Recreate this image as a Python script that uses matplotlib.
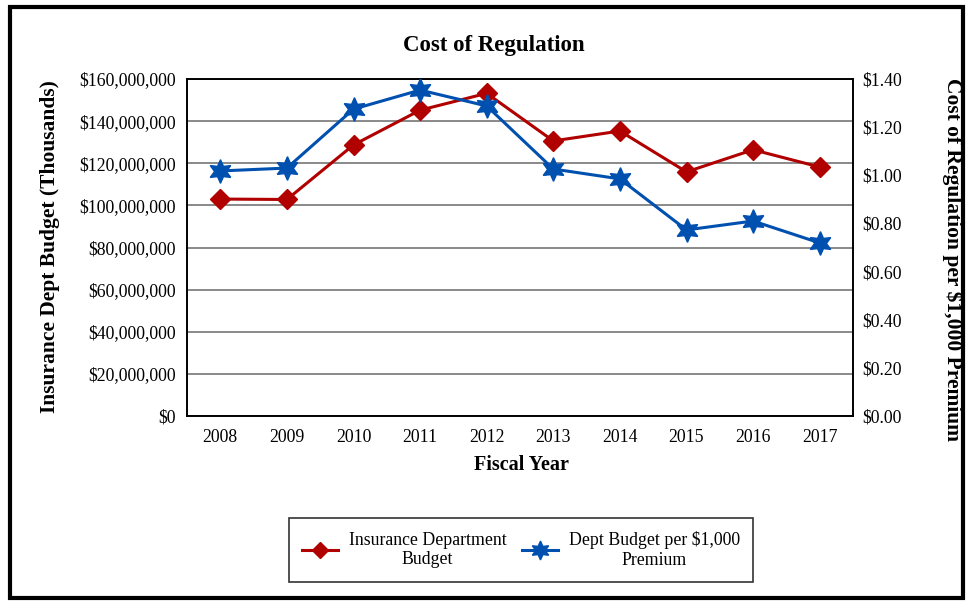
import matplotlib
matplotlib.use("Agg")
import matplotlib.pyplot as plt
from matplotlib.ticker import FuncFormatter
from matplotlib.patches import Rectangle

years = ["2008", "2009", "2010", "2011", "2012", "2013", "2014", "2015", "2016", "2017"]
dept_budget = [103.0e6, 102.8e6, 128.7e6, 145.2e6, 153.2e6, 130.6e6, 135.3e6, 115.9e6, 126.4e6, 118.2e6]
per_1000 = [1.018, 1.030, 1.275, 1.354, 1.288, 1.026, 0.985, 0.773, 0.810, 0.719]

plt.rcParams['font.family'] = ['Liberation Serif', 'DejaVu Serif']

fig = plt.figure(figsize=(9.69, 6.01), dpi=100)
ax = fig.add_axes([187/969, 1-416/601, (853-187)/969, (416-79)/601])
ax2 = ax.twinx()

x = list(range(len(years)))
red = '#B00000'
blue = '#0050B0'
star = (6, 1, 0)

l1, = ax.plot(x, dept_budget, color=red, lw=2.2, marker='D', ms=10, mfc=red, mec=red, zorder=3,
              label='Insurance Department\nBudget')
l2, = ax2.plot(x, per_1000, color=blue, lw=2.2, marker=star, ms=17, mfc=blue, mec=blue, zorder=3,
               label='Dept Budget per $1,000\nPremium')

ax.set_xlim(-0.5, 9.5)
ax.set_ylim(0, 160e6)
ax.set_yticks([i * 20e6 for i in range(9)])
ax2.set_ylim(0, 1.4)
ax2.set_yticks([i * 0.2 for i in range(8)])
ax.set_xticks(x)
ax.set_xticklabels(years)

ax.yaxis.set_major_formatter(FuncFormatter(lambda v, p: "${:,.0f}".format(v)))
ax2.yaxis.set_major_formatter(FuncFormatter(lambda v, p: "${:.2f}".format(v)))

ax.grid(axis='y', color='#808080', lw=1.3)
ax.set_axisbelow(True)
for a in (ax, ax2):
    a.tick_params(length=0, labelsize=12.8)
    for s in a.spines.values():
        s.set_color('black')
        s.set_linewidth(1.2)
ax.tick_params(axis='y', pad=8)
ax2.tick_params(axis='y', pad=7)
ax.tick_params(axis='x', pad=9)

fig.text(494/969, 1-46/601, "Cost of Regulation", fontsize=16.5, fontweight='bold',
         ha='center', va='center')
fig.text(521/969, 1-465/601, "Fiscal Year", fontsize=14.5, fontweight='bold',
         ha='center', va='center')
fig.text(50/969, 1-247/601, "Insurance Dept Budget (Thousands)", fontsize=15.5, fontweight='bold',
         ha='center', va='center', rotation=90)
fig.text(952/969, 1-260/601, "Cost of Regulation per $1,000 Premium", fontsize=15.5,
         fontweight='bold', ha='center', va='center', rotation=-90)

leg = fig.legend(handles=[l1, l2], loc='center', bbox_to_anchor=(521/969, 1-550/601),
                 ncol=2, frameon=True, fancybox=False, edgecolor='black', fontsize=12.8,
                 handlelength=2.0, handletextpad=0.6, columnspacing=0.9, borderpad=0.75,
                 borderaxespad=0, markerscale=0.8)
leg.get_frame().set_linewidth(1.2)
for t in leg.get_texts():
    t.set_multialignment('center')

fig.patches.append(Rectangle((10/969, 1-598/601), (963-10)/969, (598-7)/601,
                             transform=fig.transFigure, fill=False, edgecolor='black', lw=3))

fig.savefig("out.png", dpi=100)
